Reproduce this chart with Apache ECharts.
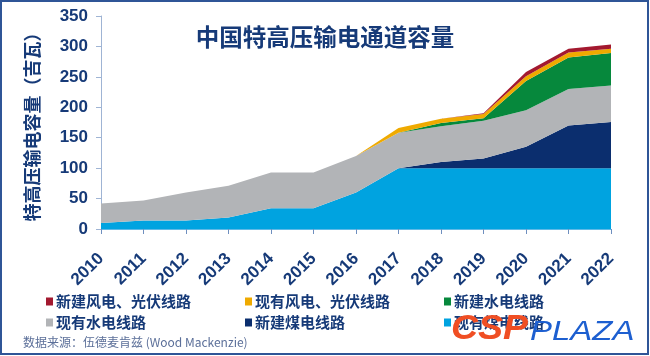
<!DOCTYPE html>
<html>
<head>
<meta charset="utf-8">
<script src="https://cdn.jsdelivr.net/npm/echarts@6/dist/echarts.min.js"></script>
<style>html,body{margin:0;padding:0;background:#fff}#c{width:650px;height:356px}</style>
</head>
<body>
<div id="c"></div>
<script>
const years = ['2010','2011','2012','2013','2014','2015','2016','2017','2018','2019','2020','2021','2022'];
const existingCoal  = [10, 14, 14, 19, 34, 34, 60, 100, 100, 100, 100, 100, 100];
const newCoal       = [0, 0, 0, 0, 0, 0, 0, 0, 10, 16, 35, 70, 76];
const existingHydro = [32, 33, 46, 52, 59, 59, 60, 58, 59, 62, 60, 60, 60];
const newHydro      = [0, 0, 0, 0, 0, 0, 0, 0, 5, 4, 48, 52, 53];
const existingWS    = [0, 0, 0, 0, 0, 0, 0, 8, 7, 7, 8, 8, 7];
const newWS         = [0, 0, 0, 0, 0, 0, 0, 0, 0, 1, 7, 6, 7];
const yTicks = [0, 50, 100, 150, 200, 250, 300, 350];

const names = ['现有煤电线路','新建煤电线路','现有水电线路','新建水电线路','现有风电、光伏线路','新建风电、光伏线路'];
const colors = ['#00a3e0','#0b2e6e','#b2b4b7','#06883c','#efaa00','#a3192f'];
const datas = [existingCoal, newCoal, existingHydro, newHydro, existingWS, newWS];

const navy = '#163a78';
const FF = '"Liberation Sans", "Noto Sans CJK SC", sans-serif';

const chart = echarts.init(document.getElementById('c'));
chart.setOption({
  animation: false,
  backgroundColor: '#ffffff',
  title: {
    text: '中国特高压输电通道容量',
    left: 'center', top: 20,
    textStyle: { color: navy, fontSize: 23.5, fontWeight: 'bold', fontFamily: '"Noto Sans CJK SC", sans-serif' }
  },
  grid: { left: 101, right: 39, top: 16, bottom: 127, containLabel: false },
  legend: {
    left: 41, top: 286, width: 615,
    itemWidth: 7, itemHeight: 8, itemGap: 0,
    icon: 'rect',
    data: names.slice().reverse(),
    textStyle: { color: navy, fontSize: 15, fontWeight: 'bold', fontFamily: '"Noto Sans CJK SC", sans-serif', width: 189, lineHeight: 21, padding: [0,0,0,-2] }
  },
  xAxis: {
    type: 'category', data: years, boundaryGap: false,
    axisLine: { lineStyle: { color: '#5fb9e6', width: 1 } },
    axisTick: { show: true, alignWithLabel: true, length: 5, lineStyle: { color: '#6f8fbf' } },
    axisLabel: { rotate: 45, margin: 27, color: navy, fontSize: 17, fontWeight: 'bold', fontFamily: FF, interval: 0 }
  },
  yAxis: {
    type: 'value', min: 0, max: 350, interval: 50,
    name: '特高压输电容量（吉瓦）', nameLocation: 'middle', nameGap: 60,
    nameTextStyle: { color: navy, fontSize: 18, fontWeight: 'bold', fontFamily: '"Noto Sans CJK SC", sans-serif' },
    splitLine: { show: false },
    axisLine: { show: true, lineStyle: { color: '#9fb4d4' } },
    axisTick: { show: true, length: 5, lineStyle: { color: '#9fb4d4' } },
    axisLabel: { margin: 13, color: navy, fontSize: 17, fontWeight: 'bold', fontFamily: FF,
      formatter: v => yTicks.includes(v) ? String(v) : '' }
  },
  series: names.map((n, i) => ({
    name: n, type: 'line', stack: 'total', data: datas[i],
    symbol: 'none', showSymbol: false,
    lineStyle: { width: 0 },
    itemStyle: { color: colors[i] },
    areaStyle: { color: colors[i], opacity: 1 },
    z: 2
  })),
  graphic: [
    { type: 'rect', shape: { x: 1, y: 1, width: 647, height: 353 }, style: { fill: 'none', stroke: '#2f5597', lineWidth: 2 }, z: 100 },
    { type: 'text', left: 23, top: 336, style: { text: '数据来源：伍德麦肯兹 (Wood Mackenzie)', fill: '#5b6f99', fontSize: 12, fontFamily: '"Noto Sans CJK SC", sans-serif' }, z: 100 },
    { type: 'text', x: 451, y: 347, scaleX: 1.07, style: { text: 'CSP', fill: '#f04e23', fontSize: 35, fontWeight: 'bold', fontStyle: 'italic', fontFamily: '"Liberation Sans", sans-serif', verticalAlign: 'bottom' }, z: 100 },
    { type: 'text', x: 530, y: 346, scaleX: 1.22, style: { text: 'PLAZA', fill: '#1d5fd0', fontSize: 27, fontStyle: 'italic', fontFamily: '"Liberation Sans", sans-serif', verticalAlign: 'bottom' }, z: 100 }
  ]
});
</script>
</body>
</html>
